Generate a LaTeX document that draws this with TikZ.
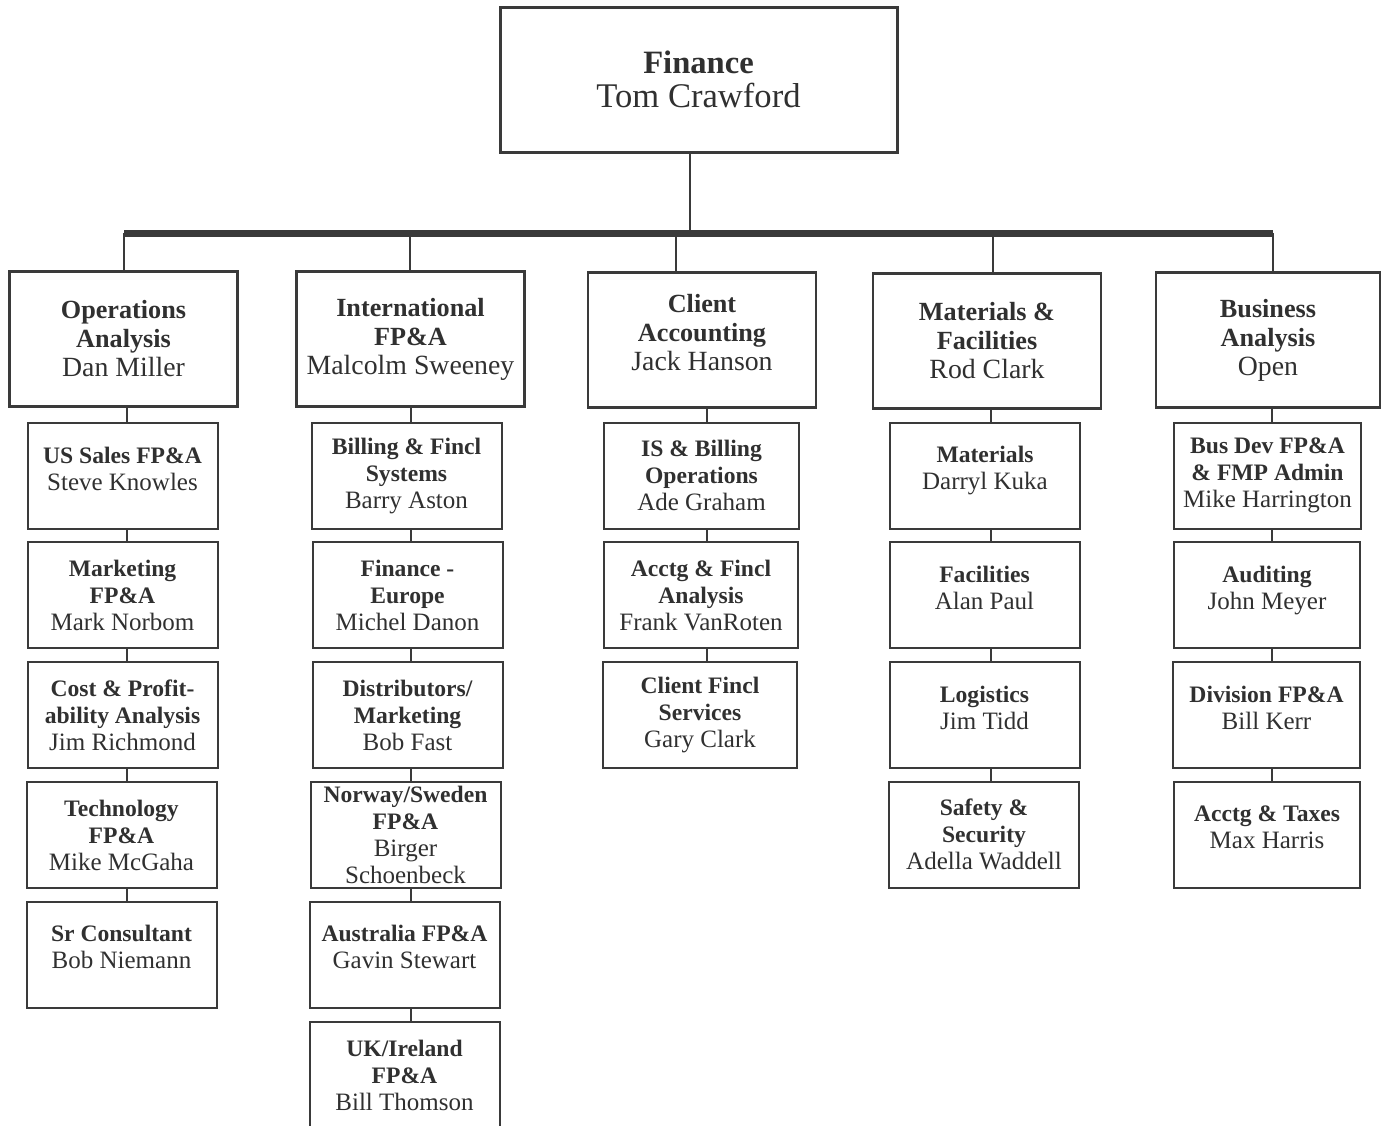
\documentclass[tikz,border=0pt]{standalone}
\usepackage{fontspec}
\setmainfont{Liberation Serif}
\usepackage{tikz}
\usetikzlibrary{calc}
\definecolor{linegray}{HTML}{3A3A3A}
\definecolor{inkgray}{HTML}{303030}
\newcommand{\orglevel}[3]{%
  \def\ttl{\fontsize{#1}{#3}\selectfont\bfseries}%
  \fontsize{#2}{#3}\selectfont}

\begin{document}
\begin{tikzpicture}[x=0.5pt,y=-0.5pt,
    box/.style={draw=linegray,text=inkgray,align=center,inner sep=0pt},
    topbox/.style={box,line width=1.5pt,minimum width=198.5pt,minimum height=72.5pt,font=\orglevel{16.3}{17.3}{17}},
    midbox/.style={box,line width=1.4pt,minimum width=114pt,minimum height=67.5pt,font=\orglevel{13.1}{13.9}{14.5}},
    subbox/.style={box,line width=1pt,minimum width=95pt,minimum height=53pt,font=\orglevel{11.8}{12.5}{13.5}},
    raised/.style={text depth=7.5pt},
    link/.style={draw=linegray,line width=1.4pt},
    sublink/.style={draw=linegray,line width=0.9pt},
    bar/.style={draw=linegray,line width=3.5pt}]
    \useasboundingbox (0,0) rectangle (1381,1125);

    \node[topbox] (fin) at (698.5,79.5) {\ttl Finance\\Tom Crawford};

    \node[midbox] (ops) at (123.5,339) {\ttl Operations\\\ttl Analysis\\Dan Miller};
    \node[midbox] (intl) at (410.5,339) {\ttl International\\\ttl FP\&A\\Malcolm Sweeney};
    \node[midbox,raised] (cli) at (702,340) {\ttl Client\\\ttl Accounting\\Jack Hanson};
    \node[midbox] (mat) at (987,341) {\ttl Materials \&\\\ttl Facilities\\Rod Clark};
    \node[midbox,minimum width=112pt] (bus) at (1268,340) {\ttl Business\\\ttl Analysis\\Open};

    \node[subbox,raised] (o1) at (122.5,476) {\ttl US Sales FP\&A\\Steve Knowles};
    \node[subbox] (o2) at (122.5,595) {\ttl Marketing\\\ttl FP\&A\\Mark Norbom};
    \node[subbox] (o3) at (122.5,715) {\ttl Cost \& Profit-\\\ttl ability Analysis\\Jim Richmond};
    \node[subbox] (o4) at (121.5,835) {\ttl Technology\\\ttl FP\&A\\Mike McGaha};
    \node[subbox,raised] (o5) at (121.5,954.5) {\ttl Sr Consultant\\Bob Niemann};

    \node[subbox] (i1) at (406.5,476) {\ttl Billing \& Fincl\\\ttl Systems\\Barry Aston};
    \node[subbox] (i2) at (407.5,595) {\ttl Finance -\\\ttl Europe\\Michel Danon};
    \node[subbox] (i3) at (407.5,715) {\ttl Distributors/\\\ttl Marketing\\Bob Fast};
    \node[subbox] (i4) at (405.5,835) {\ttl Norway/Sweden\\\ttl FP\&A\\Birger\\Schoenbeck};
    \node[subbox,raised] (i5) at (404.5,954.5) {\ttl Australia FP\&A\\Gavin Stewart};
    \node[subbox] (i6) at (404.5,1075) {\ttl UK/Ireland\\\ttl FP\&A\\Bill Thomson};

    \node[subbox,minimum width=97.5pt] (c1) at (701.5,475.5) {\ttl IS \& Billing\\\ttl Operations\\Ade Graham};
    \node[subbox,minimum width=97pt] (c2) at (701,595) {\ttl Acctg \& Fincl\\\ttl Analysis\\Frank VanRoten};
    \node[subbox,minimum width=97pt] (c3) at (700,715) {\ttl Client Fincl\\\ttl Services\\Gary Clark};

    \node[subbox,raised] (m1) at (985,475.5) {\ttl Materials\\Darryl Kuka};
    \node[subbox,raised] (m2) at (984.5,595) {\ttl Facilities\\Alan Paul};
    \node[subbox,raised] (m3) at (984.5,715) {\ttl Logistics\\Jim Tidd};
    \node[subbox] (m4) at (984,834.5) {\ttl Safety \&\\\ttl Security\\Adella Waddell};

    \node[subbox,minimum width=93.5pt] (b1) at (1267.5,475.5) {\ttl Bus Dev FP\&A\\\ttl \& FMP Admin\\Mike Harrington};
    \node[subbox,minimum width=93pt,raised] (b2) at (1267,595) {\ttl Auditing\\John Meyer};
    \node[subbox,minimum width=93.5pt,raised] (b3) at (1266.5,715) {\ttl Division FP\&A\\Bill Kerr};
    \node[subbox,minimum width=93pt,raised] (b4) at (1267,835) {\ttl Acctg \& Taxes\\Max Harris};

    \coordinate (hub) at (690,233);
    \coordinate (k1) at (124,233);
    \coordinate (k2) at (410,233);
    \coordinate (k3) at (676,233);
    \coordinate (k4) at (993,233);
    \coordinate (k5) at (1273,233);
    \coordinate (x1) at (127,0);
    \coordinate (x2) at (411,0);
    \coordinate (x3) at (707,0);
    \coordinate (x4) at (991,0);
    \coordinate (x5) at (1272,0);

    \draw[link] (fin.south -| hub) -- (hub);
    \draw[bar] (k1) -- (k5);
    \foreach \k/\n in {k1/ops,k2/intl,k3/cli,k4/mat,k5/bus}
        \draw[link] (\k) -- (\k |- \n.north);

    \foreach \a/\b in {ops/o1,o1/o2,o2/o3,o3/o4,o4/o5}
        \draw[sublink] (x1 |- \a.south) -- (x1 |- \b.north);
    \foreach \a/\b in {intl/i1,i1/i2,i2/i3,i3/i4,i4/i5,i5/i6}
        \draw[sublink] (x2 |- \a.south) -- (x2 |- \b.north);
    \foreach \a/\b in {cli/c1,c1/c2,c2/c3}
        \draw[sublink] (x3 |- \a.south) -- (x3 |- \b.north);
    \foreach \a/\b in {mat/m1,m1/m2,m2/m3,m3/m4}
        \draw[sublink] (x4 |- \a.south) -- (x4 |- \b.north);
    \foreach \a/\b in {bus/b1,b1/b2,b2/b3,b3/b4}
        \draw[sublink] (x5 |- \a.south) -- (x5 |- \b.north);
\end{tikzpicture}
\end{document}
